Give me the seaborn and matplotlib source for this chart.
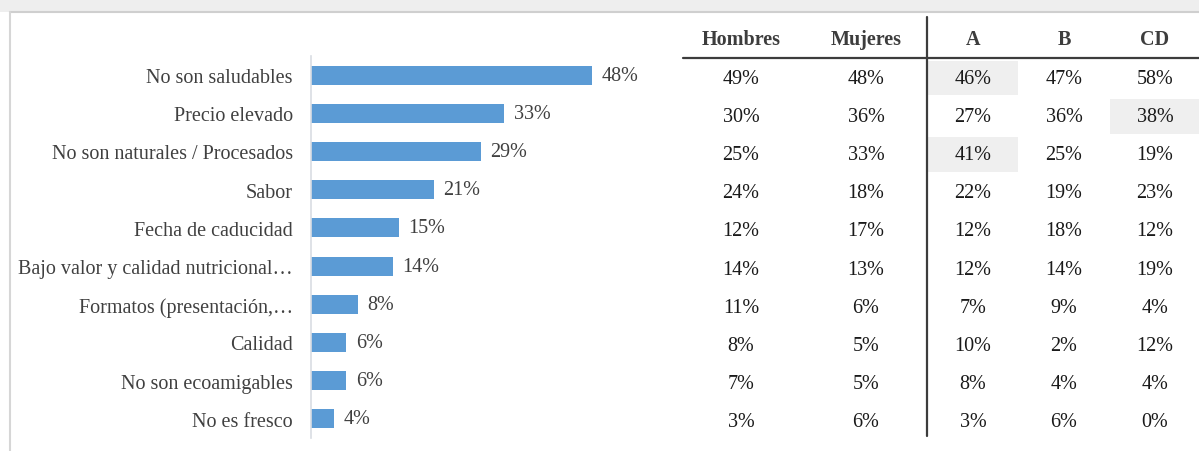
import matplotlib
matplotlib.use("Agg")
import matplotlib.pyplot as plt
from matplotlib.patches import Rectangle
from matplotlib.lines import Line2D
from matplotlib.transforms import blended_transform_factory
import seaborn as sns

# Reasons for rejecting the product: total share and breakdown by sex / socioeconomic level
categorias = [
    "No son saludables",
    "Precio elevado",
    "No son naturales / Procesados",
    "Sabor",
    "Fecha de caducidad",
    "Bajo valor y calidad nutricional…",
    "Formatos (presentación,…",
    "Calidad",
    "No son ecoamigables",
    "No es fresco",
]
total = [48, 33, 29, 21, 15, 14, 8, 6, 6, 4]

columnas = ["Hombres", "Mujeres", "A", "B", "CD"]
hombres = [49, 30, 25, 24, 12, 14, 11, 8, 7, 3]
mujeres = [48, 36, 33, 18, 17, 13, 6, 5, 5, 6]
nse_a = [46, 27, 41, 22, 12, 12, 7, 10, 8, 3]
nse_b = [47, 36, 25, 19, 18, 14, 9, 2, 4, 6]
nse_cd = [58, 38, 19, 23, 12, 19, 4, 12, 4, 0]
destacados = [("A", 0), ("CD", 1), ("A", 2)]

sns.set_style("white")
plt.rcParams["font.family"] = ["Liberation Serif", "DejaVu Serif"]

W, H = 1199, 452
fig = plt.figure(figsize=(W / 100, H / 100), dpi=100)
fig.patch.set_facecolor("white")

# soft header band and page frame
fig.patches.append(Rectangle((0, 1 - 13 / H), 1, 13 / H, transform=fig.transFigure,
                             facecolor="#eeeeee", edgecolor="none", zorder=0))
fig.add_artist(Line2D([10 / W, 1], [1 - 13 / H, 1 - 13 / H], transform=fig.transFigure,
                      color="#cfcfcf", lw=1.5))
fig.add_artist(Line2D([10 / W, 10 / W], [0, 1 - 13 / H], transform=fig.transFigure,
                      color="#d6d6d6", lw=1.5))

top_px, bot_px = 57, 439
ax = fig.add_axes([311 / W, (H - bot_px) / H, 369 / W, (bot_px - top_px) / H])
ax.set_facecolor("none")

sns.barplot(x=total, y=categorias, orient="h", color="#5b9bd5", saturation=1,
            width=0.5, linewidth=0, ax=ax)
ax.set_xlim(0, 63.1)
ax.set_ylim(9.5, -0.5)
ax.set_xlabel("")
ax.set_ylabel("")
ax.set_xticks([])
for side in ["top", "right", "bottom"]:
    ax.spines[side].set_visible(False)
ax.spines["left"].set_color("#d9dde3")
ax.spines["left"].set_linewidth(1.2)
ax.tick_params(axis="y", length=0, pad=13, labelsize=14.5, labelcolor="#404040")

ax.bar_label(ax.containers[0], labels=[f"{v}%" for v in total], padding=7,
             fontsize=14.5, color="#404040")

# side table
tr = blended_transform_factory(fig.transFigure, ax.transData)
col_x = {"Hombres": 741, "Mujeres": 866, "A": 973, "B": 1064, "CD": 1155}
valores = {"Hombres": hombres, "Mujeres": mujeres, "A": nse_a, "B": nse_b, "CD": nse_cd}
celda_x = {"A": (928, 1018), "CD": (1110, 1199)}
row_off = 0.08

for col, row in destacados:
    x0, x1 = celda_x[col]
    ax.add_patch(Rectangle((x0 / W, row - 0.45 + row_off), (x1 - x0) / W, 0.9,
                           transform=tr, facecolor="#efefef", edgecolor="none",
                           clip_on=False, zorder=0))

for col in columnas:
    ax.text(col_x[col] / W, -0.945, col, transform=tr, ha="center", va="center",
            fontsize=14.5, fontweight="bold", color="#3d3d3d", clip_on=False)
    for i, v in enumerate(valores[col]):
        ax.text(col_x[col] / W, i + row_off, f"{v}%", transform=tr, ha="center",
                va="center", fontsize=14.5, color="#1a1a1a", clip_on=False)

ax.add_line(Line2D([683 / W, 1.0], [-0.45, -0.45], transform=tr, color="#3c3c3c",
                   lw=1.6, clip_on=False))
ax.add_line(Line2D([927 / W, 927 / W], [-1.52, 9.45], transform=tr, color="#3c3c3c",
                   lw=1.6, clip_on=False))

fig.savefig("out.png", dpi=100)
